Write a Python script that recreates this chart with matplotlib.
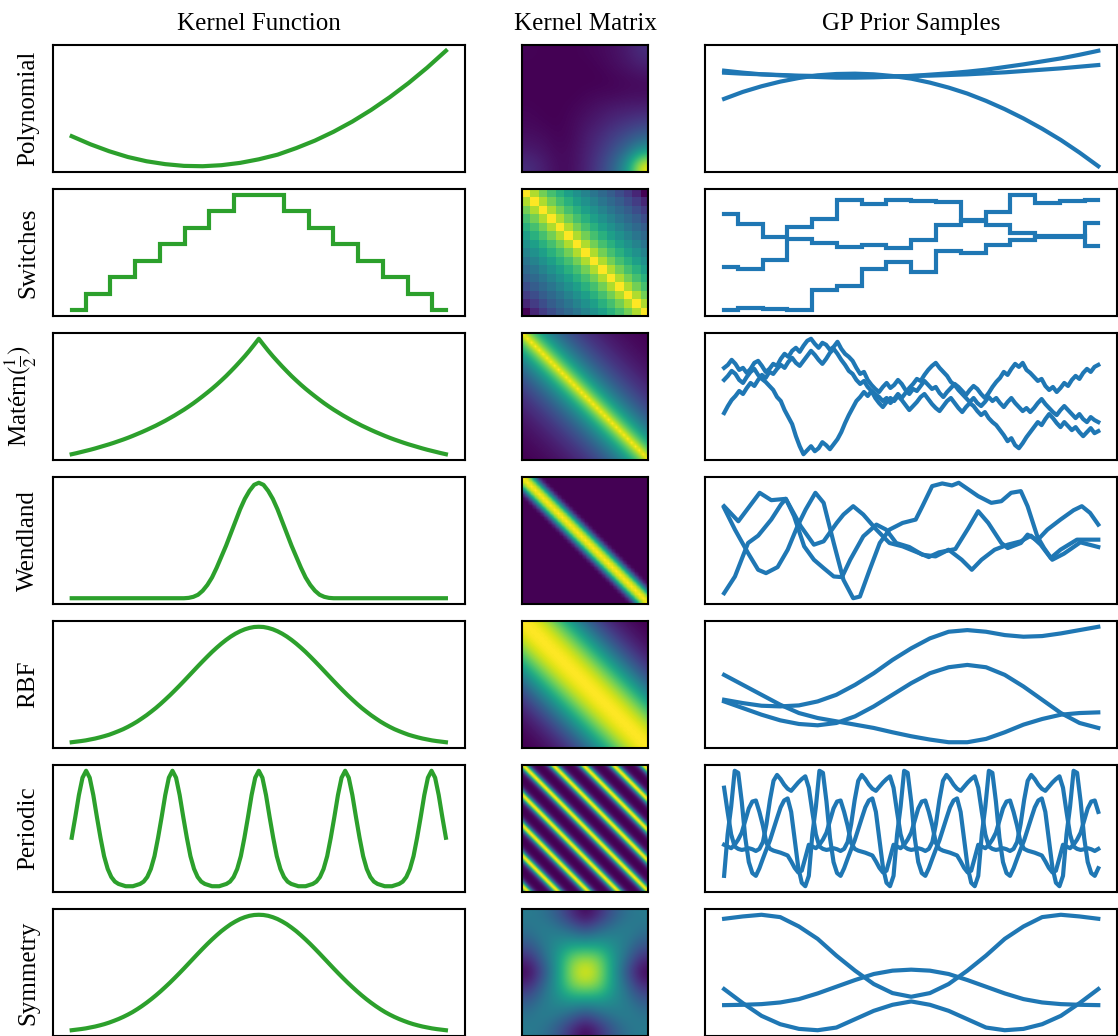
import numpy as np
import matplotlib.pyplot as plt

plt.rcParams["font.family"] = "serif"
plt.rcParams["font.serif"] = ["Liberation Serif", "DejaVu Serif"]
plt.rcParams["mathtext.fontset"] = "stix"

GREEN = "#2ca02c"
BLUE = "#1f77b4"

col_titles = ["Kernel Function", "Kernel Matrix", "GP Prior Samples"]
row_labels = ["Polynomial", "Switches", "Matérn$(\\frac{1}{2})$", "Wendland",
              "RBF", "Periodic", "Symmetry"]

# ---- kernel functions ----
poly_func = [0.26, 0.19, 0.13, 0.08, 0.043, 0.018, 0.003, 0.0, 0.009, 0.029, 0.06,
             0.10, 0.157, 0.222, 0.299, 0.387, 0.487, 0.598, 0.72, 0.854, 1.0]
switch_edges = [0.0, 0.037, 0.103, 0.169, 0.236, 0.302, 0.368, 0.434, 0.567,
                0.633, 0.699, 0.765, 0.831, 0.898, 0.964, 1.0]
switch_levels = [0, 1, 2, 3, 4, 5, 6, 7, 6, 5, 4, 3, 2, 1, 0]
# symmetric kernels: value from the centre out to the edge
matern_half = [1.0, 0.948, 0.897, 0.849, 0.804, 0.760, 0.718, 0.677, 0.639, 0.602,
               0.567, 0.534, 0.502, 0.471, 0.441, 0.413, 0.386, 0.361, 0.336, 0.313,
               0.290, 0.269, 0.248, 0.229, 0.210, 0.192, 0.175, 0.158, 0.142, 0.127,
               0.113, 0.099, 0.086, 0.074, 0.062, 0.050, 0.039, 0.029, 0.019, 0.009, 0.0]
wendland_half = [1.0, 0.982, 0.93, 0.86, 0.77, 0.665, 0.56, 0.455, 0.36, 0.265, 0.18,
                 0.115, 0.065, 0.03, 0.012, 0.003, 0.0] + [0.0] * 24
rbf_half = [1.0, 0.998, 0.990, 0.978, 0.961, 0.940, 0.915, 0.886, 0.854, 0.819, 0.782,
            0.742, 0.701, 0.659, 0.616, 0.573, 0.530, 0.488, 0.447, 0.407, 0.369,
            0.332, 0.297, 0.265, 0.234, 0.206, 0.179, 0.155, 0.133, 0.113, 0.096,
            0.080, 0.065, 0.053, 0.042, 0.032, 0.024, 0.016, 0.010, 0.005, 0.0]
symmetry_half = [1.0, 0.998, 0.991, 0.979, 0.963, 0.942, 0.918, 0.889, 0.858, 0.823,
                 0.786, 0.747, 0.706, 0.664, 0.621, 0.578, 0.535, 0.493, 0.452, 0.412,
                 0.374, 0.337, 0.302, 0.269, 0.238, 0.209, 0.182, 0.157, 0.135, 0.115,
                 0.097, 0.081, 0.066, 0.053, 0.042, 0.032, 0.024, 0.016, 0.010, 0.005, 0.0]
periodic_period = [1.0, 0.94, 0.79, 0.6, 0.42, 0.26, 0.15, 0.08, 0.04, 0.02, 0.01, 0.0,
                   0.0, 0.0, 0.01, 0.02, 0.04, 0.08, 0.15, 0.26, 0.42, 0.6, 0.79, 0.94]

# ---- kernel matrices ----
poly_matrix = [
    [0.03, 0.02, 0.02, 0.02, 0.03, 0.04, 0.06, 0.09, 0.15],
    [0.02, 0.02, 0.02, 0.02, 0.02, 0.03, 0.05, 0.07, 0.10],
    [0.02, 0.02, 0.02, 0.02, 0.02, 0.02, 0.03, 0.04, 0.05],
    [0.02, 0.02, 0.02, 0.02, 0.03, 0.04, 0.04, 0.05, 0.05],
    [0.03, 0.02, 0.02, 0.03, 0.05, 0.07, 0.09, 0.10, 0.11],
    [0.04, 0.03, 0.02, 0.04, 0.07, 0.10, 0.14, 0.17, 0.20],
    [0.06, 0.05, 0.03, 0.04, 0.09, 0.14, 0.20, 0.26, 0.33],
    [0.09, 0.07, 0.04, 0.05, 0.10, 0.17, 0.26, 0.38, 0.55],
    [0.15, 0.10, 0.05, 0.05, 0.11, 0.20, 0.33, 0.55, 1.00],
]
symmetry_matrix = [
    [0.43, 0.40, 0.30, 0.15, 0.03, 0.15, 0.30, 0.40, 0.43],
    [0.40, 0.45, 0.42, 0.35, 0.25, 0.35, 0.42, 0.45, 0.40],
    [0.30, 0.42, 0.50, 0.55, 0.55, 0.55, 0.50, 0.42, 0.30],
    [0.15, 0.35, 0.55, 0.80, 0.85, 0.80, 0.55, 0.35, 0.15],
    [0.03, 0.25, 0.55, 0.85, 1.00, 0.85, 0.55, 0.25, 0.03],
    [0.15, 0.35, 0.55, 0.80, 0.85, 0.80, 0.55, 0.35, 0.15],
    [0.30, 0.42, 0.50, 0.55, 0.55, 0.55, 0.50, 0.42, 0.30],
    [0.40, 0.45, 0.42, 0.35, 0.25, 0.35, 0.42, 0.45, 0.40],
    [0.43, 0.40, 0.30, 0.15, 0.03, 0.15, 0.30, 0.40, 0.43],
]
# first rows of the stationary kernel matrices (value vs. lag)
switch_row = [1.0, 0.9, 0.82, 0.75, 0.69, 0.63, 0.58, 0.53, 0.48, 0.44, 0.40,
              0.35, 0.30, 0.24, 0.15]
matern_row = [1.0, 0.90, 0.81, 0.73, 0.66, 0.59, 0.535, 0.48, 0.435, 0.39, 0.355,
              0.32, 0.285, 0.26, 0.235, 0.21, 0.19, 0.17, 0.155, 0.14, 0.125, 0.11,
              0.10, 0.09, 0.08, 0.075, 0.065, 0.06, 0.055, 0.05, 0.045, 0.04, 0.035]
wendland_row = [1.0, 0.93, 0.75, 0.45, 0.15, 0.02] + [0.0] * 27
rbf_row = [1.0, 0.996, 0.984, 0.965, 0.939, 0.907, 0.869, 0.826, 0.779, 0.729, 0.677,
           0.623, 0.57, 0.517, 0.465, 0.415, 0.368, 0.323, 0.282, 0.244, 0.21,
           0.179, 0.151, 0.127, 0.105, 0.087, 0.071, 0.058, 0.047, 0.037, 0.03,
           0.023, 0.018]

# ---- GP prior samples (heights) ----
poly_s1 = [304, 298, 293, 290, 287, 285, 283, 283, 284, 286, 288, 292, 296, 301, 307,
           315, 323, 332, 341, 352, 364]
poly_s2 = [298, 295, 293, 291, 289, 288, 287, 287, 287, 287, 288, 289, 291, 293, 296,
           299, 303, 307, 311, 316, 321]
poly_s3 = [219, 240, 257, 271, 282, 290, 294, 295, 293, 288, 280, 268, 253, 235, 213,
           188, 160, 129, 95, 57, 16]

sample_edges = [0.0, 0.037, 0.103, 0.169, 0.236, 0.302, 0.368, 0.434, 0.500, 0.567,
                0.633, 0.699, 0.765, 0.831, 0.898, 0.964, 1.0]
switch_s1 = [305, 276, 238, 268, 291, 346, 336, 346, 343, 340, 288, 313, 363, 338, 345, 348]
switch_s2 = [148, 140, 168, 230, 218, 208, 213, 203, 228, 273, 286, 273, 248, 240, 240, 210]
switch_s3 = [18, 25, 23, 20, 78, 90, 140, 163, 133, 196, 190, 213, 228, 236, 236, 280]

matern_s1 = [92, 95, 100, 96, 90, 92, 87, 91, 97, 99, 94, 88, 91,
             96, 94, 101, 106, 103, 109, 112, 108,
             114, 119, 121, 116, 112, 117, 115, 110, 113, 118, 111, 106, 103,
             99, 92, 86, 88, 80, 75, 71,
             68, 73, 77, 72, 75, 80, 76, 70, 66, 71, 69, 74, 79, 75, 71, 73,
             67, 63, 68, 72, 76, 73, 69, 65, 70, 74, 71, 66, 62, 67, 73, 78,
             82, 88, 85, 91, 96, 93, 97, 90, 87,
             83, 79, 81, 74, 70, 73, 68, 72, 77, 74, 80, 84, 81, 87, 91, 88, 93, 95]
matern_s2 = [80, 84, 89, 86, 80, 77, 83, 88, 91, 85, 81, 78, 74,
             70, 63, 59, 50, 43, 36, 24, 14,
             6, 10, 14, 9, 12, 18, 15, 11, 16, 21, 28, 37, 45,
             52, 59, 63, 68, 64, 69, 62,
             57, 53, 58, 62, 59, 64, 60, 55, 50, 54, 58, 63, 66, 61, 56, 52,
             49, 54, 59, 62, 57, 52, 48, 53, 57, 54, 49, 45, 48, 42, 38, 35,
             30, 25, 19, 22, 15, 12, 17, 23, 28,
             33, 38, 35, 41, 46, 42, 37, 33, 38, 34, 30, 33, 28, 24, 28, 32, 27, 29]
matern_s3 = [47, 54, 60, 64, 69, 66, 72, 77, 74, 80, 85, 82, 88,
             86, 91, 95, 92, 98, 102, 97, 94,
             99, 104, 109, 105, 100, 96, 101, 107, 111, 106, 100, 95, 89,
             86, 80, 76, 79, 73, 69, 66,
             63, 59, 62, 57, 61, 66, 62, 67, 72, 76, 81, 79, 85, 90, 94, 97,
             92, 88, 84, 78, 75, 70, 66, 62, 58, 62, 57, 54, 58, 63, 59, 62,
             57, 53, 58, 62, 57, 53, 49, 52, 48,
             52, 57, 61, 56, 52, 48, 45, 50, 54, 50, 46, 42, 46, 41, 38, 43, 40, 38]

wendland_t1 = [0, .038, .095, .126, .165, .205, .240, .266, .301, .319, .345, .372,
               .407, .442, .477, .521, .547, .574, .618, .653, .679, .706, .741, .758,
               .793, .811, .837, .864, .899, .934, .956, .978, 1.0]
wendland_s1 = [292, 247, 332, 310, 314, 232, 177, 187, 242, 267, 292, 267, 222, 182,
               172, 152, 140, 154, 164, 227, 277, 242, 182, 167, 182, 207, 190, 222,
               252, 280, 292, 272, 237]
wendland_t2 = [0, .029, .064, .091, .112, .143, .170, .196, .218, .244, .266, .293,
               .319, .345, .363, .389, .416, .442, .477, .512, .530, .556, .583, .609,
               .627, .653, .679, .714, .741, .767, .793, .811, .837, .855, .877, .908,
               .952, 1.0]
wendland_s2 = [287, 222, 152, 102, 92, 110, 162, 232, 282, 332, 302, 182, 72, 17, 22,
               102, 182, 222, 242, 252, 292, 352, 360, 354, 362, 342, 322, 302, 307,
               332, 337, 292, 202, 167, 132, 150, 184, 170]
wendland_t3 = [0, .029, .064, .091, .126, .152, .165, .187, .214, .240, .266, .293,
               .315, .337, .372, .407, .433, .460, .495, .530, .565, .600, .635, .662,
               .688, .723, .758, .793, .820, .846, .873, .899, .943, 1.0]
wendland_s3 = [32, 82, 182, 204, 252, 297, 314, 262, 172, 132, 107, 82, 80, 132, 202,
               237, 222, 182, 170, 147, 142, 162, 132, 102, 132, 162, 177, 187, 204,
               177, 137, 162, 192, 192]

rbf_s1 = [219, 189, 159, 129, 104, 89, 79, 69, 59, 46, 34, 24, 16, 16, 26, 46, 69, 86,
          99, 104, 106]
rbf_s2 = [144, 134, 126, 124, 127, 139, 159, 189, 224, 264, 299, 329, 349, 354, 349,
          339, 334, 336, 344, 354, 364]
rbf_s3 = [139, 119, 99, 82, 71, 67, 74, 94, 124, 159, 194, 224, 242, 249, 242, 219,
          184, 144, 104, 74, 59]

# one period of each periodic sample
periodic_s1 = [311, 241, 176, 141, 134, 131, 133, 136, 133, 128, 134, 154, 206, 276,
               331, 348, 336, 320, 308, 302, 314, 326, 336, 344]
periodic_s2 = [56, 176, 256, 360, 354, 271, 166, 96, 64, 56, 78, 106, 133, 159, 191,
               223, 254, 274, 280, 241, 161, 81, 36, 26]
periodic_s3 = [146, 141, 136, 146, 161, 181, 216, 251, 271, 274, 241, 201, 151, 134,
               129, 126, 123, 119, 115, 98, 79, 66, 71, 108]

symmetry_s1 = [353, 360, 365, 358, 330, 293, 243, 198, 158, 131, 120, 131, 158, 198,
               243, 293, 330, 358, 365, 360, 353]
symmetry_s2 = [143, 101, 63, 38, 24, 20, 28, 53, 78, 96, 106, 96, 78, 53, 28, 20, 24,
               38, 63, 101, 143]
symmetry_s3 = [95, 96, 98, 103, 113, 130, 150, 170, 188, 198, 201, 198, 188, 170, 150,
               130, 113, 103, 98, 96, 95]


def toeplitz(row):
    row = np.asarray(row, dtype=float)
    idx = np.arange(len(row))
    return row[np.abs(idx[:, None] - idx[None, :])]


def mirrored(half):
    return list(half[::-1]) + list(half[1:])


def line(ax, ys, color, xs=None):
    ys = np.asarray(ys, dtype=float)
    if xs is None:
        xs = np.linspace(0, 1, len(ys))
    ax.plot(xs, ys, color=color, lw=3)


fig, axes = plt.subplots(7, 3, figsize=(11.18, 10.36), dpi=100,
                         gridspec_kw=dict(width_ratios=[412, 127, 412]))
fig.subplots_adjust(left=53 / 1118, right=1117 / 1118, top=1 - 45 / 1036,
                    bottom=0.0, wspace=57 / 317, hspace=17 / 127)

# left column: kernel functions
line(axes[0, 0], poly_func, GREEN)
axes[1, 0].step(switch_edges, switch_levels + [switch_levels[-1]], where="post",
                color=GREEN, lw=3, solid_joinstyle="miter")
line(axes[2, 0], mirrored(matern_half), GREEN)
line(axes[3, 0], mirrored(wendland_half), GREEN)
line(axes[4, 0], mirrored(rbf_half), GREEN)
line(axes[5, 0], np.tile(periodic_period, 6)[20:125], GREEN)
line(axes[6, 0], mirrored(symmetry_half), GREEN)

# middle column: kernel matrices
mats = [
    (np.array(poly_matrix), "bicubic"),
    (toeplitz(switch_row), "nearest"),
    (toeplitz(matern_row), "bilinear"),
    (toeplitz(wendland_row), "bilinear"),
    (toeplitz(rbf_row), "bilinear"),
    (toeplitz(np.tile(periodic_period, 5)[:101]), "bilinear"),
    (np.array(symmetry_matrix), "bicubic"),
]
for ax, (m, interp) in zip(axes[:, 1], mats):
    ax.imshow(m, cmap="viridis", aspect="auto", interpolation=interp)

# right column: GP prior samples
for s in (poly_s1, poly_s2, poly_s3):
    line(axes[0, 2], s, BLUE)
for s in (switch_s1, switch_s2, switch_s3):
    axes[1, 2].step(sample_edges, s + [s[-1]], where="post", color=BLUE, lw=3,
                    solid_joinstyle="miter")
for s in (matern_s1, matern_s2, matern_s3):
    line(axes[2, 2], s, BLUE)
for t, s in ((wendland_t1, wendland_s1), (wendland_t2, wendland_s2),
             (wendland_t3, wendland_s3)):
    line(axes[3, 2], s, BLUE, xs=t)
for s in (rbf_s1, rbf_s2, rbf_s3):
    line(axes[4, 2], s, BLUE)
for s in (periodic_s1, periodic_s2, periodic_s3):
    line(axes[5, 2], np.tile(s, 5)[:107], BLUE)
for s in (symmetry_s1, symmetry_s2, symmetry_s3):
    line(axes[6, 2], s, BLUE)

for ax in axes.flat:
    ax.set_xticks([])
    ax.set_yticks([])
    for sp in ax.spines.values():
        sp.set_linewidth(1.5)
        sp.set_color("black")

for ax, title in zip(axes[0], col_titles):
    ax.set_title(title, fontsize=18, pad=11)
for ax, label in zip(axes[:, 0], row_labels):
    ax.set_ylabel(label, fontsize=18, labelpad=10)

fig.savefig("out.png", dpi=100)
